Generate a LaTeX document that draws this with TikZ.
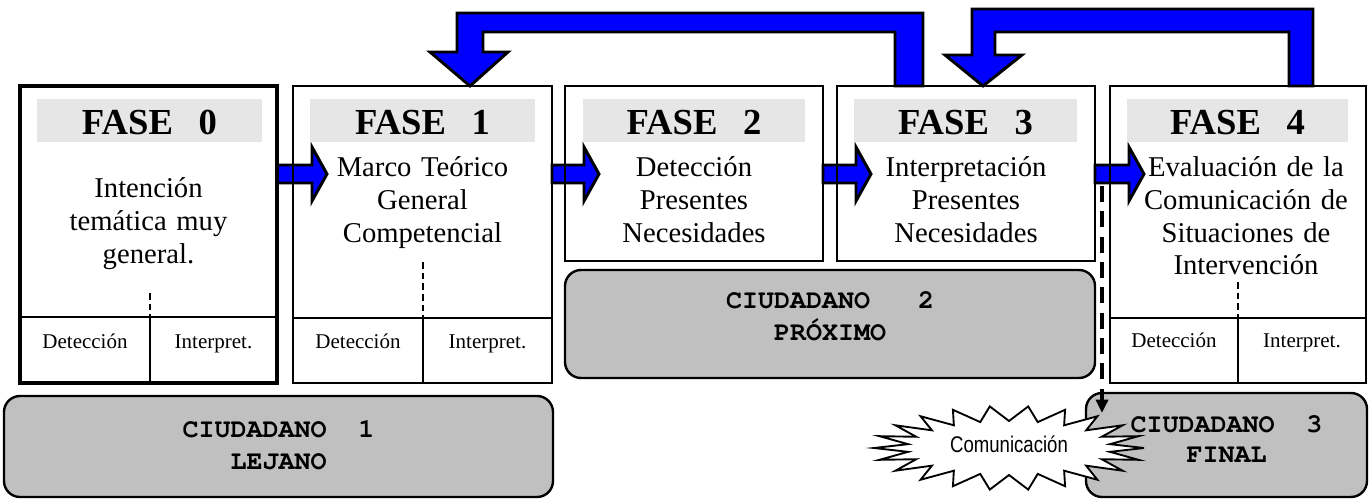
\documentclass[tikz,border=0pt]{standalone}
\usepackage{fontspec}
\setmainfont{Liberation Serif}
\newfontfamily\citfont{texgyrecursor}[Extension=.otf, UprightFont=*-regular, BoldFont=*-bold]
\newfontfamily\comfont[FakeStretch=0.82]{Liberation Sans}
\usetikzlibrary{fit,calc,arrows.meta}
\pgfdeclarelayer{background}
\pgfsetlayers{background,main}
\definecolor{hdrgray}{HTML}{E6E6E6}
\definecolor{citgray}{HTML}{C0C0C0}
\definecolor{arrblue}{HTML}{0000FF}
\tikzset{
 phasebox/.style={draw, line width=2.2pt, inner sep=0pt, outer sep=0pt},
 hdrbar/.style={fill=hdrgray, inner sep=0pt, outer sep=0pt},
 hdrtext/.style={font=\fontsize{27.5}{30}\selectfont\bfseries, anchor=base, inner sep=0pt},
 bodytext/.style={font=\fontsize{21.5}{24.5}\selectfont, text width=190pt, align=center, anchor=base, inner sep=0pt},
 celltext/.style={font=\fontsize{15.75}{18}\selectfont, anchor=base, inner sep=0pt},
 citbox/.style={draw, line width=1.8pt, fill=citgray, rounded corners=12pt, inner sep=0pt, outer sep=0pt},
 cittext/.style={font=\citfont\fontsize{20}{24}\selectfont\bfseries, text width=300pt, align=center, anchor=base, inner sep=0pt},
 bigarrow/.style={fill=arrblue, draw, line width=2.2pt, line join=miter},
 divline/.style={line width=1.5pt},
 dashdiv/.style={line width=1.1pt, dash pattern=on 5pt off 3pt},
 linkdash/.style={line width=3.2pt, dash pattern=on 12pt off 7pt, -{Triangle[width=9pt,length=10pt]}},
 burst/.style={draw, fill=white, line width=1.4pt, line join=miter},
 comtext/.style={font=\comfont\fontsize{17}{20}\selectfont, anchor=base, inner sep=0pt},
}
\newcommand\phasearrow[2]{%
 \draw[bigarrow] (#1.east |- 0,165) -- ($(#2.west |- 0,165)+(19,0)$)
   -- ($(#2.west |- 0,147)+(19,0)$) -- ($(#2.west |- 0,174)+(34,0)$)
   -- ($(#2.west |- 0,201)+(19,0)$) -- ($(#2.west |- 0,183)+(19,0)$)
   -- (#1.east |- 0,183) -- cycle;}
\begin{document}
\begin{tikzpicture}[x=0.75pt,y=-0.75pt]
\useasboundingbox (0,0) rectangle (1371,499);
% phase boxes
\node[phasebox, line width=2.6pt, fit={(20,86) (277,383)}] (f0) {};
\node[phasebox, fit={(293,86) (552,383)}] (f1) {};
\node[phasebox, fit={(565,86) (823,261)}] (f2) {};
\node[phasebox, fit={(837,86) (1095,261)}] (f3) {};
\node[phasebox, fit={(1110,86) (1366,383)}] (f4) {};
% headers
\node[hdrbar, fit={(37,99) (262,142)}] (h0) {};
\node[hdrbar, fit={(310,99) (535,142)}] (h1) {};
\node[hdrbar, fit={(583,99) (805,142)}] (h2) {};
\node[hdrbar, fit={(854,99) (1077,142)}] (h3) {};
\node[hdrbar, fit={(1127,99) (1348,142)}] (h4) {};
\node[hdrtext] (h0t) at (h0.center |- 0,135) {FASE\hspace{0.7em}0};
\node[hdrtext] (h1t) at (h1.center |- 0,135) {FASE\hspace{0.7em}1};
\node[hdrtext] (h2t) at (h2.center |- 0,135) {FASE\hspace{0.7em}2};
\node[hdrtext] (h3t) at (h3.center |- 0,135) {FASE\hspace{0.7em}3};
\node[hdrtext] (h4t) at (h4.center |- 0,135) {FASE\hspace{0.7em}4};
% body texts
\node[bodytext] (b0) at (f0.center |- 0,198) {Intención\\temática muy\\general.};
\node[bodytext] (b1) at (f1.center |- 0,177) {Marco Teórico\\General\\Competencial};
\node[bodytext] (b2) at (f2.center |- 0,177) {Detección\\Presentes\\Necesidades};
\node[bodytext] (b3) at (f3.center |- 0,177) {Interpretación\\Presentes\\Necesidades};
\node[bodytext] (b4) at ($(f4.center |- 0,177)+(8,0)$) {Evaluación de la\\Comunicación de\\Situaciones de\\Intervención};
% bottom cells
\draw[divline] (f0.west |- 0,317) -- (f0.east |- 0,317);
\draw[divline] (150,317) -- (150,383);
\draw[dashdiv] (150,293) -- (150,317);
\draw[divline] (f1.west |- 0,318) -- (f1.east |- 0,318);
\draw[divline] (423,318) -- (423,383);
\draw[dashdiv] (423,262) -- (423,318);
\draw[divline] (f4.west |- 0,318) -- (f4.east |- 0,318);
\draw[divline] (1238,318) -- (1238,383);
\draw[dashdiv] (1238,282) -- (1238,318);
\node[celltext] (d0) at (85,348) {Detección};
\node[celltext] (i0) at (213.5,348) {Interpret.};
\node[celltext] (d1) at (358,348) {Detección};
\node[celltext] (i1) at (487.5,348) {Interpret.};
\node[celltext] (d4) at (1174,347) {Detección};
\node[celltext] (i4) at (1302,347) {Interpret.};
% arrows behind box borders
\begin{pgfonlayer}{background}
\phasearrow{f0}{f1}
\phasearrow{f1}{f2}
\phasearrow{f2}{f3}
\phasearrow{f3}{f4}
\draw[bigarrow] (923,0 |- f3.north) -- (923,13) -- (457,13) -- (457,52) -- (430,52)
  -- (470,0 |- f1.north) -- (508,52) -- (483,52) -- (483,32) -- (895,32)
  -- (895,0 |- f3.north) -- cycle;
\draw[bigarrow] (1313,0 |- f4.north) -- (1313,9) -- (972,9) -- (972,55) -- (945,55)
  -- (983,0 |- f3.north) -- (1022,55) -- (995,55) -- (995,32) -- (1289,32)
  -- (1289,0 |- f4.north) -- cycle;
\end{pgfonlayer}
% ciudadano boxes
\node[citbox, fit={(4,396) (553,497)}] (c1) {};
\node[citbox, fit={(565,270) (1095,378)}] (c2) {};
\node[citbox, fit={(1086,393) (1367,497)}] (c3) {};
\node[cittext] (c1t) at (c1.center |- 0,437) {CIUDADANO\hspace{1.2em}1\\LEJANO};
\node[cittext] (c2t) at (c2.center |- 0,308) {CIUDADANO\hspace{1.8em}2\\PRÓXIMO};
% dashed link to ciudadano 3
\coordinate (ls) at (1102,186);
\coordinate (le) at (1102,413);
\draw[linkdash] (ls) -- (le);
% explosion
\draw[burst] (1144,448) \foreach \k in {0,...,21} {
  -- ({1009+102*cos(\k*360/22+180/22)},{448+27*sin(\k*360/22+180/22)})
  -- ({1009+135*cos(\k*360/22+360/22)},{448+42*sin(\k*360/22+360/22)}) } -- cycle;
\node[comtext] (com) at (1009,452) {Comunicación};
\node[cittext, font=\citfont\fontsize{20}{22.5}\selectfont\bfseries] (c3t) at (c3.center |- 0,432) {CIUDADANO\hspace{1.2em}3\\FINAL};
\end{tikzpicture}
\end{document}
